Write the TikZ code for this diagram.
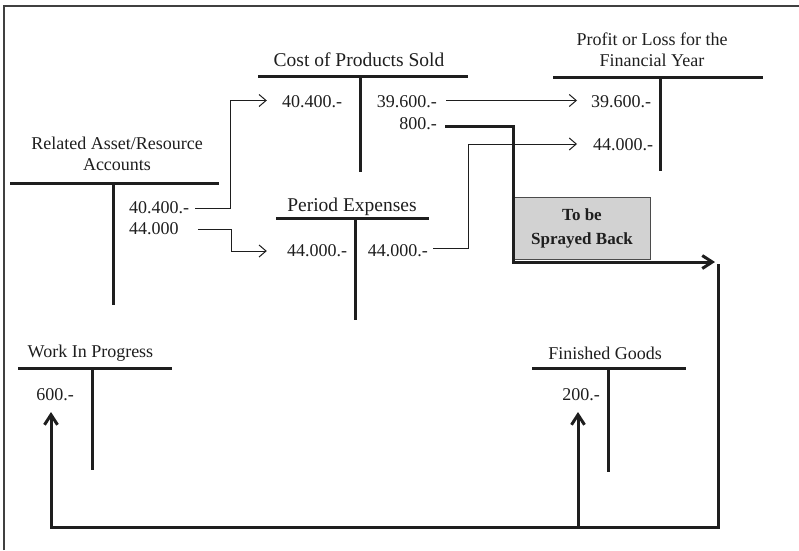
\documentclass[tikz,border=0pt]{standalone}
\usepackage{fontspec}
\setmainfont{Liberation Serif}
\usetikzlibrary{arrows.meta}
\definecolor{ink}{HTML}{1E1E1E}
\definecolor{boxgray}{HTML}{D2D2D2}
\tikzset{
  tbar/.style={draw=ink, line width=3pt, line cap=butt},
  title/.style={text=ink, align=center, inner sep=0pt, font=\fontsize{18}{21}\selectfont},
  bigtitle/.style={title, font=\fontsize{19.5}{22}\selectfont},
  entry/.style={text=ink, inner sep=0pt, font=\fontsize{18}{21}\selectfont},
  flow/.style={draw=ink, line width=1pt, -{Straight Barb[length=7pt,width=12pt]}},
  bigflow/.style={draw=ink, line width=3pt, line join=miter, -{Straight Barb[length=10pt,width=13pt]}},
  plainbig/.style={draw=ink, line width=3pt, line join=miter},
  sprayed/.style={draw=ink!80, fill=boxgray, line width=0.8pt, minimum width=136pt, minimum height=62pt,
    align=center, text=ink, font=\fontsize{17}{24}\selectfont\bfseries, inner sep=0pt},
}
\begin{document}
\begin{tikzpicture}[x=1pt, y=-1pt]
\useasboundingbox (0,0) rectangle (799,550);
% outer frame
\draw[ink!85, line width=1.2pt] (4,550) -- (4,6) -- (799,6);

% Cost of Products Sold
\node[bigtitle] (cpst) at (359,60) {Cost of Products Sold};
\draw[tbar] (258,76) -- (468,76);
\draw[tbar] (360,76) -- (360,172);
\node[entry] (cpsl) at (312,102) {40.400.-};
\node[entry, anchor=east] (cpsr) at (437,102) {39.600.-};
\node[entry, anchor=east] (c800) at (437,124) {800.-};

% Profit or Loss for the Financial Year
\node[title] (plt) at (652,49.5) {Profit or Loss for the\\Financial Year};
\draw[tbar] (553,77) -- (763,77);
\draw[tbar] (660,77) -- (660,171);
\node[entry, anchor=west] (pl1) at (591,102) {39.600.-};
\node[entry, anchor=west] (pl2) at (593,145) {44.000.-};

% Related Asset/Resource Accounts
\node[title] (rat) at (117,154) {Related Asset/Resource\\Accounts};
\draw[tbar] (10,183) -- (219,183);
\draw[tbar] (113,183) -- (113,305);
\node[entry, anchor=west] (ra1) at (129,208) {40.400.-};
\node[entry, anchor=west] (ra2) at (129,229) {44.000};

% Period Expenses
\node[bigtitle] (pet) at (352,207) {Period Expenses};
\draw[tbar] (276,218) -- (429,218);
\draw[tbar] (355,218) -- (355,320);
\node[entry] (pel) at (317,251) {44.000.-};
\node[entry, anchor=east] (per) at (428,251) {44.000.-};

% Work In Progress
\node[title] (wipt) at (90.5,353) {Work In Progress};
\draw[tbar] (18,368) -- (172,368);
\draw[tbar] (92,368) -- (92,470);
\node[entry] (wip) at (55,395) {600.-};

% Finished Goods
\node[title] (fgt) at (605,353) {Finished Goods};
\draw[tbar] (532,368) -- (686,368);
\draw[tbar] (608,368) -- (608,472);
\node[entry] (fg) at (581,395) {200.-};

% box for the amount to be sprayed back
\node[sprayed] (box) at (582,228) {To be\\Sprayed Back};

% thin transfer arrows
\draw[flow] ([xshift=6pt]ra1.east) -- ++(35,0) |- ([xshift=-15pt,yshift=1.5pt]cpsl.west);
\draw[flow] ([xshift=19pt]ra2.east) -- ++(34,0) |- ([xshift=-20pt]pel.west);
\draw[flow] ([xshift=9pt,yshift=1.5pt]cpsr.east) -- ([xshift=-14pt,yshift=1.5pt]pl1.west);
\draw[flow] ([xshift=5pt,yshift=3pt]per.east) -- ++(35,0) |- ([xshift=-16pt,yshift=1pt]pl2.west);

% 800.- is sprayed back to the inventories
\coordinate (turn) at (718,262);
\coordinate (base) at (718,527);
\coordinate (wipin) at (51,412);
\coordinate (fgin) at (578,412);
\draw[bigflow] ([xshift=8pt,yshift=-2pt]c800.east) -| (box.west |- turn) -- ([xshift=-3pt]turn);
\draw[bigflow] ([yshift=-2pt]turn) -- (base) -| (wipin);
\draw[bigflow] (fgin |- base) -- (fgin);
\end{tikzpicture}
\end{document}
